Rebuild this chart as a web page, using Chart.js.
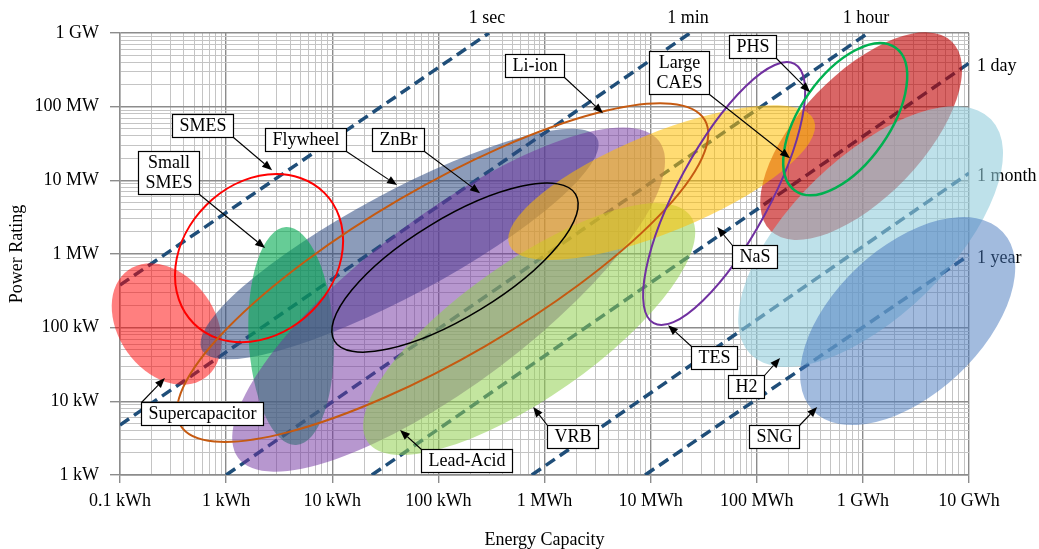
<!DOCTYPE html>
<html>
<head>
<meta charset="utf-8">
<script src="https://cdn.jsdelivr.net/npm/chart.js@4.4.0/dist/chart.umd.min.js"></script>
<style>
  html, body { margin: 0; padding: 0; background: #fff; }
  #wrap { width: 1039px; height: 549px; position: relative; }
</style>
</head>
<body>
<div id="wrap"><canvas id="storage"></canvas></div>
<script>
// Axis ticks
const energyTicks = [0.1, 1, 10, 100, 1e3, 1e4, 1e5, 1e6, 1e7]; // kWh
const energyLabels = ['0.1 kWh', '1 kWh', '10 kWh', '100 kWh', '1 MWh', '10 MWh', '100 MWh', '1 GWh', '10 GWh'];
const powerTicks = [1, 10, 100, 1e3, 1e4, 1e5, 1e6]; // kW
const powerLabels = ['1 kW', '10 kW', '100 kW', '1 MW', '10 MW', '100 MW', '1 GW'];

// Discharge time lines, start and end (kWh, kW)
const durationNames = ['1 sec', '1 min', '1 hour', '1 day', '1 month', '1 year'];
const durationStartEnergy = [0.1, 0.1, 1, 23.6, 759, 8870];
const durationStartPower = [378, 4.77, 1, 1, 1, 1];
const durationEndEnergy = [300, 23500, 1.12e6, 1e7, 1e7, 1e7];
const durationEndPower = [1e6, 1e6, 1e6, 389000, 12500, 966];

// Technology areas: both ends of the long axis (kWh, kW) and width / length
const techNames = ['Supercapacitor', 'Flywheel', 'Small SMES', 'Lead-Acid', 'VRB', 'Large CAES', 'NaS',
                   'SMES', 'Li-ion', 'ZnBr', 'TES', 'H2', 'SNG', 'PHS'];
const techFromEnergy = [0.12, 0.593, 3.67, 1.30, 21.6, 135000, 466, 0.495, 0.371, 10.5, 10700, 86900, 336000, 230000];
const techFromPower = [605, 49.7, 2317, 1.70, 2.80, 2065, 1321, 114, 4.75, 65.8, 115, 43.8, 7.57, 7230];
const techToEnergy = [0.63, 3133, 4.56, 12000, 23800, 6.87e6, 346000, 8.43, 32400, 1960, 227000, 1.61e7, 2.08e7, 2.02e6];
const techToPower = [20.7, 37400, 2.55, 34100, 3270, 767000, 65600, 6764, 65800, 6500, 380000, 67600, 1995, 634000];
const techWidth = [0.73, 0.23, 0.39, 0.32, 0.345, 0.47, 0.30, 0.81, 0.28, 0.347, 0.31, 0.47, 0.564, 0.51];

// Where each callout arrow points (kWh, kW)
const calloutText = ['Supercapacitor', 'Flywheel', 'Small\nSMES', 'Lead-Acid', 'VRB', 'Large\nCAES', 'NaS',
                     'SMES', 'Li-ion', 'ZnBr', 'TES', 'H2', 'SNG', 'PHS'];
const calloutEnergy = [0.265, 40.8, 2.33, 43.5, 782, 206000, 42400, 2.71, 3560, 247, 14600, 166000, 371000, 318000];
const calloutPower = [20.7, 8610, 1202, 4.08, 8.37, 20000, 2320, 13700, 81600, 6700, 108, 38.7, 8.37, 157000];

// Styles (fill or outline), same order as techNames
const techStyle = [
  { fill: 'rgba(255,0,0,0.5)' },
  { fill: 'rgba(45,75,130,0.55)' },
  { fill: 'rgba(0,170,80,0.6)' },
  { fill: 'rgba(112,48,160,0.5)' },
  { fill: 'rgba(146,208,80,0.55)' },
  { fill: 'rgba(192,0,0,0.6)' },
  { fill: 'rgba(255,192,0,0.55)' },
  { line: '#FF0000', width: 2 },
  { line: '#C55A11', width: 2 },
  { line: '#000000', width: 1.5 },
  { line: '#7030A0', width: 2 },
  { fill: 'rgba(146,205,220,0.6)' },
  { fill: 'rgba(70,120,190,0.5)' },
  { line: '#00B050', width: 2.5 }
];
// callout box centre relative to the arrow tip, px
const calloutOffset = [[37, 35], [-92, -46], [-97, -76], [66, 30], [39, 29], [-111, -86], [37, 29],
                       [-70, -45], [-69, -48], [-82, -54], [46, 32], [-34, 28], [-43, 29], [-58, -46]];

const FONT_FAMILY = "'Liberation Serif', 'Times New Roman', serif";
const FONT = '18px ' + FONT_FAMILY;

function isDecade(v) {
  const l = Math.log10(v);
  return Math.abs(l - Math.round(l)) < 1e-6;
}

// all 1..9 multiples so the minor grid shows
function logGrid(scale) {
  const ticks = [];
  const lo = Math.round(Math.log10(scale.min)), hi = Math.round(Math.log10(scale.max));
  for (let k = lo; k <= hi; k++) {
    for (let m = 1; m <= 9; m++) {
      if (k === hi && m > 1) break;
      ticks.push({ value: m * Math.pow(10, k) });
    }
  }
  scale.ticks = ticks;
}

function tickLabel(values, labels) {
  return function(v) {
    const i = values.findIndex(t => Math.abs(Math.log10(t) - Math.log10(v)) < 1e-6);
    return i < 0 ? '' : labels[i];
  };
}

const gridStyle = {
  color: c => isDecade(c.tick.value) ? '#8c8c8c' : '#c4c4c4',
  lineWidth: c => isDecade(c.tick.value) ? 1.4 : 1,
  tickColor: c => isDecade(c.tick.value) ? '#8c8c8c' : 'rgba(0,0,0,0)'
};

function drawArrow(ctx, sx, sy, tx, ty) {
  const ang = Math.atan2(ty - sy, tx - sx);
  const len = 10, half = 4;
  ctx.beginPath();
  ctx.moveTo(sx, sy);
  ctx.lineTo(tx - Math.cos(ang) * len, ty - Math.sin(ang) * len);
  ctx.strokeStyle = '#000';
  ctx.lineWidth = 1.1;
  ctx.stroke();
  ctx.beginPath();
  ctx.moveTo(tx, ty);
  ctx.lineTo(tx - Math.cos(ang) * len - Math.sin(ang) * half, ty - Math.sin(ang) * len + Math.cos(ang) * half);
  ctx.lineTo(tx - Math.cos(ang) * len + Math.sin(ang) * half, ty - Math.sin(ang) * len - Math.cos(ang) * half);
  ctx.closePath();
  ctx.fillStyle = '#000';
  ctx.fill();
}

const overlay = {
  id: 'overlay',
  afterDatasetsDraw(chart) {
    const { ctx, chartArea } = chart;
    const xs = chart.scales.x, ys = chart.scales.y;
    ctx.save();

    // names of the discharge time lines
    ctx.font = FONT;
    ctx.fillStyle = '#000';
    durationNames.forEach((name, i) => {
      const px = xs.getPixelForValue(durationEndEnergy[i]);
      const py = ys.getPixelForValue(durationEndPower[i]);
      if (durationEndPower[i] >= ys.max) {
        ctx.textAlign = 'center';
        ctx.textBaseline = 'middle';
        ctx.fillText(name, px - 2, chartArea.top - 15);
      } else {
        ctx.textAlign = 'left';
        ctx.textBaseline = 'middle';
        ctx.fillText(name, chartArea.right + 8, py + 3);
      }
    });

    // technology areas
    techNames.forEach((name, i) => {
      const x1 = xs.getPixelForValue(techFromEnergy[i]), y1 = ys.getPixelForValue(techFromPower[i]);
      const x2 = xs.getPixelForValue(techToEnergy[i]), y2 = ys.getPixelForValue(techToPower[i]);
      const a = Math.hypot(x2 - x1, y2 - y1) / 2;
      const st = techStyle[i];
      ctx.beginPath();
      ctx.ellipse((x1 + x2) / 2, (y1 + y2) / 2, a, a * techWidth[i], Math.atan2(y2 - y1, x2 - x1), 0, Math.PI * 2);
      if (st.fill) {
        ctx.fillStyle = st.fill;
        ctx.fill();
      }
      if (st.line) {
        ctx.strokeStyle = st.line;
        ctx.lineWidth = st.width;
        ctx.stroke();
      }
    });

    // callouts
    ctx.font = FONT;
    calloutText.forEach((text, i) => {
      const tx = xs.getPixelForValue(calloutEnergy[i]), ty = ys.getPixelForValue(calloutPower[i]);
      const [ox, oy] = calloutOffset[i];
      const lines = text.split('\n');
      const w = Math.round(Math.max(...lines.map(l => ctx.measureText(l).width)) + 14);
      const h = lines.length * 20 + 3;
      const bx = Math.round(tx + ox - w / 2) + 0.5, by = Math.round(ty + oy - h / 2) + 0.5;
      const sx = ox < 0 ? bx + w : bx;
      const sy = oy < 0 ? by + h : by;
      drawArrow(ctx, sx, sy, tx, ty);
      ctx.fillStyle = '#fff';
      ctx.fillRect(bx, by, w, h);
      ctx.strokeStyle = '#000';
      ctx.lineWidth = 1.2;
      ctx.strokeRect(bx, by, w, h);
      ctx.fillStyle = '#000';
      ctx.textAlign = 'center';
      ctx.textBaseline = 'middle';
      lines.forEach((l, k) => ctx.fillText(l, bx + w / 2, by + 11.5 + k * 20));
    });
    ctx.restore();
  }
};

const durationSets = durationNames.map((name, i) => ({
  label: name,
  data: [{ x: durationStartEnergy[i], y: durationStartPower[i] }, { x: durationEndEnergy[i], y: durationEndPower[i] }],
  showLine: true,
  borderColor: '#1F4E79',
  borderWidth: 3.5,
  borderDash: [11, 6],
  pointRadius: 0,
  fill: false
}));

Chart.defaults.font.family = FONT_FAMILY;

const chart = new Chart(document.getElementById('storage').getContext('2d'), {
  type: 'scatter',
  data: { datasets: durationSets },
  options: {
    responsive: true,
    maintainAspectRatio: false,
    animation: false,
    layout: { padding: { left: 0, top: 33, right: 70, bottom: 0 } },
    plugins: { legend: { display: false }, tooltip: { enabled: false } },
    scales: {
      x: {
        type: 'logarithmic',
        min: 0.1,
        max: 1e7,
        afterBuildTicks: logGrid,
        afterFit: s => { s.height = 74; },
        ticks: { callback: tickLabel(energyTicks, energyLabels), autoSkip: false, maxRotation: 0,
                 color: '#000', font: { size: 18 }, padding: 7 },
        grid: Object.assign({ tickLength: 8 }, gridStyle),
        border: { color: '#8c8c8c', width: 1.4 },
        title: { display: true, text: 'Energy Capacity', color: '#000',
                 font: { size: 18, lineHeight: 1 }, padding: { top: 0, bottom: 0 } }
      },
      y: {
        type: 'logarithmic',
        min: 1,
        max: 1e6,
        afterBuildTicks: logGrid,
        afterFit: s => { s.width = 120; },
        ticks: { callback: tickLabel(powerTicks, powerLabels), autoSkip: false,
                 color: '#000', font: { size: 18 }, padding: 11 },
        grid: Object.assign({ tickLength: 10 }, gridStyle),
        border: { color: '#8c8c8c', width: 1.4 },
        title: { display: true, text: 'Power Rating', color: '#000',
                 font: { size: 18, lineHeight: 1 }, padding: { top: 8, bottom: 0 } }
      }
    }
  },
  plugins: [overlay]
});
</script>
</body>
</html>
